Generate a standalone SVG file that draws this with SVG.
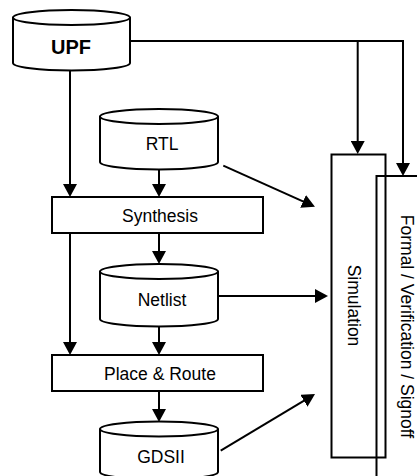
<svg xmlns="http://www.w3.org/2000/svg" width="417" height="476" viewBox="0 0 417 476">
<defs>
<style>
.shape{fill:#fff;stroke:#000;stroke-width:2}
.open{fill:none;stroke:#000;stroke-width:2}
.conn{fill:none;stroke:#000;stroke-width:2;marker-end:url(#arr)}
.lbl{font-family:"Liberation Sans",Arial,sans-serif;font-size:17.5px;fill:#000;text-anchor:middle}
.bold{font-weight:bold;font-size:20px}
</style>
<marker id="arr" markerUnits="userSpaceOnUse" markerWidth="14" markerHeight="14" refX="9" refY="7" orient="auto">
<path d="M0,0 L13,7 L0,14 z" fill="#000"/>
</marker>
</defs>
<rect width="417" height="476" fill="#fff"/>
<g id="connectors">
<path class="open" d="M130,41 H403 V172" marker-end="url(#arr)"/>
<path class="conn" d="M357.7,41 V150"/>
<path class="conn" d="M70,70.5 V193"/>
<path class="conn" d="M70,233 V351"/>
<path class="conn" d="M159,169.5 V193"/>
<path class="conn" d="M159,233 V260"/>
<path class="conn" d="M159,326 V351"/>
<path class="conn" d="M159,391 V418"/>
<path class="conn" d="M223.3,165.7 L311.3,205.1"/>
<path class="conn" d="M218,296 H324"/>
<path class="conn" d="M220.7,450.7 L311.6,396.1"/>
</g>
<g id="upf">
<path class="shape" d="M13,17.5 V63 a58.5,7.5 0 0 0 117,0 V17.5 a58.5,7.5 0 0 0 -117,0 z"/>
<path class="open" d="M13,17.5 a58.5,7.5 0 0 0 117,0"/>
<text class="lbl bold" x="71" y="54">UPF</text>
</g>
<g id="rtl">
<path class="shape" d="M100,116.5 V162 a59,7.5 0 0 0 118,0 V116.5 a59,7.5 0 0 0 -118,0 z"/>
<path class="open" d="M100,116.5 a59,7.5 0 0 0 118,0"/>
<text class="lbl" x="162" y="150">RTL</text>
</g>
<g id="synthesis">
<rect class="shape" x="52" y="197" width="211" height="36"/>
<text class="lbl" x="160" y="221.5">Synthesis</text>
</g>
<g id="netlist">
<path class="shape" d="M100,271.5 V319 a59,7.5 0 0 0 118,0 V271.5 a59,7.5 0 0 0 -118,0 z"/>
<path class="open" d="M100,271.5 a59,7.5 0 0 0 118,0"/>
<text class="lbl" x="162" y="306">Netlist</text>
</g>
<g id="placeroute">
<rect class="shape" x="52" y="355" width="211" height="36"/>
<text class="lbl" x="160" y="379.5">Place &amp; Route</text>
</g>
<g id="gdsii">
<path class="shape" d="M100,429 V472 a59,7.5 0 0 0 118,0 V429 a59,7.5 0 0 0 -118,0 z"/>
<path class="open" d="M100,429 a59,7.5 0 0 0 118,0"/>
<text class="lbl" x="161" y="463">GDSII</text>
</g>
<g id="simulation">
<rect class="open" x="331.5" y="154.5" width="54" height="303"/>
<text class="lbl" transform="translate(348,305.5) rotate(90)" x="0" y="0">Simulation</text>
</g>
<g id="formal">
<rect class="open" x="376.5" y="176" width="100" height="400"/>
<text class="lbl" transform="translate(401,326.5) rotate(90)" x="0" y="0">Formal / Verification / Signoff</text>
</g>
</svg>
